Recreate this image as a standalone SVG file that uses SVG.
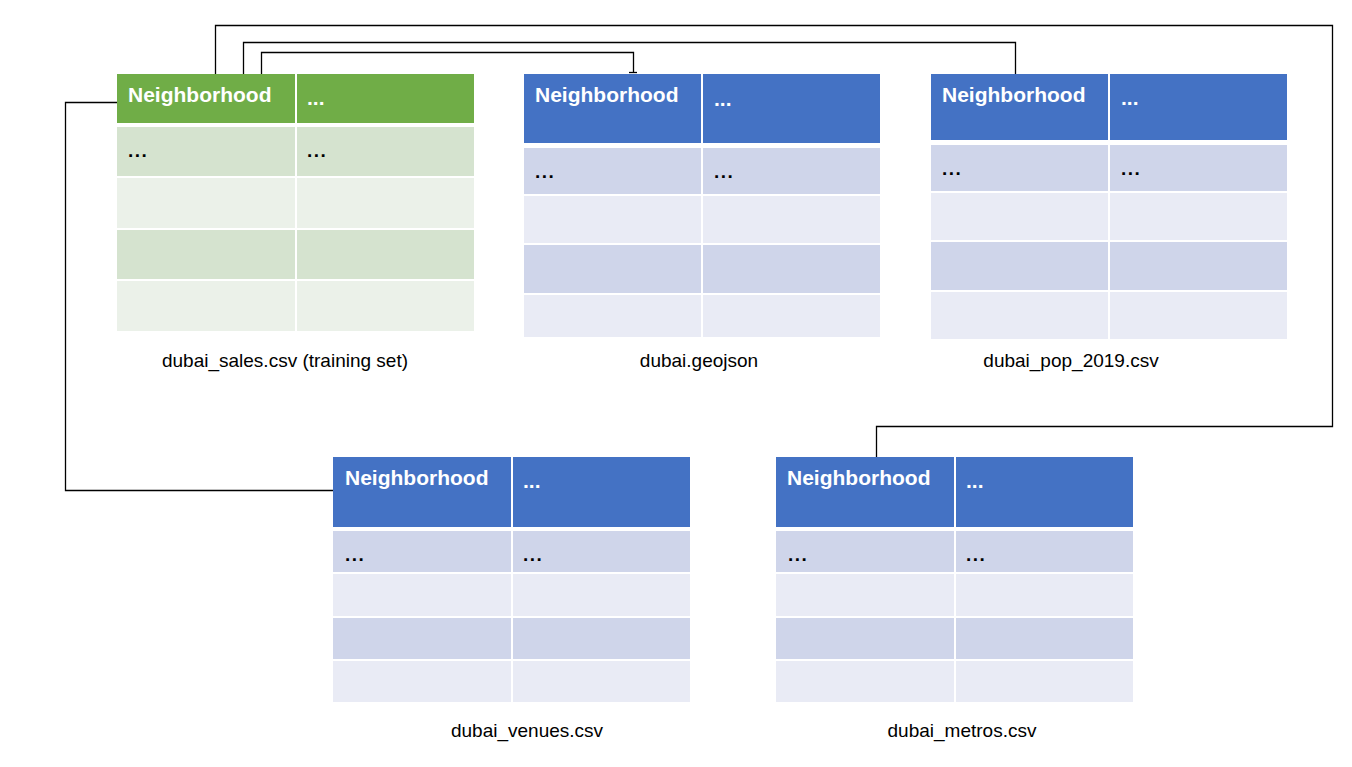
<svg xmlns="http://www.w3.org/2000/svg" width="1352" height="767" viewBox="0 0 1352 767">
<style>
.hg{fill:#70AD47}.g1{fill:#D5E3CF}.g2{fill:#EBF1E9}
.hb{fill:#4472C4}.b1{fill:#CFD5EA}.b2{fill:#E9EBF5}
.ht{font-family:"Liberation Sans",Arial,sans-serif;font-weight:bold;font-size:21px;fill:#FFFFFF}
.ct{font-family:"Liberation Sans",Arial,sans-serif;font-weight:bold;font-size:19px;letter-spacing:1.5px;fill:#000000}
.cap{font-family:"Liberation Sans",Arial,sans-serif;font-size:19px;fill:#000000;text-anchor:middle}
.conn{fill:none;stroke:#000000;stroke-width:1.3}
</style>
<rect width="1352" height="767" fill="#FFFFFF"/>
<g id="connectors">
<path class="conn" d="M215.5 74 V25.5 H1332.5 V426.5 H876.5 V457"/>
<path class="conn" d="M243.5 74 V42.5 H1015.5 V74"/>
<path class="conn" d="M261.5 74 V52.5 H633.5 V72"/>
<path class="conn" d="M629 72.5 H637"/>
<path class="conn" d="M117 102.5 H65.5 V490.5 H333"/>
</g>
<g id="sales">
<rect class="hg" x="117" y="74" width="178" height="49"/>
<rect class="hg" x="297" y="74" width="177" height="49"/>
<rect class="g1" x="117" y="127" width="178" height="49"/>
<rect class="g1" x="297" y="127" width="177" height="49"/>
<rect class="g2" x="117" y="178" width="178" height="50"/>
<rect class="g2" x="297" y="178" width="177" height="50"/>
<rect class="g1" x="117" y="230" width="178" height="49"/>
<rect class="g1" x="297" y="230" width="177" height="49"/>
<rect class="g2" x="117" y="281" width="178" height="50"/>
<rect class="g2" x="297" y="281" width="177" height="50"/>
<text class="ht" x="128" y="102">Neighborhood</text>
<text class="ht" x="307" y="105">...</text>
<text class="ct" x="128" y="157">...</text>
<text class="ct" x="307" y="157">...</text>
<text class="cap" x="285" y="367">dubai_sales.csv (training set)</text>
</g>
<g id="geojson">
<rect class="hb" x="524" y="74" width="177" height="69"/>
<rect class="hb" x="703" y="74" width="177" height="69"/>
<rect class="b1" x="524" y="148" width="177" height="46"/>
<rect class="b1" x="703" y="148" width="177" height="46"/>
<rect class="b2" x="524" y="196" width="177" height="47"/>
<rect class="b2" x="703" y="196" width="177" height="47"/>
<rect class="b1" x="524" y="245" width="177" height="48"/>
<rect class="b1" x="703" y="245" width="177" height="48"/>
<rect class="b2" x="524" y="295" width="177" height="42"/>
<rect class="b2" x="703" y="295" width="177" height="42"/>
<text class="ht" x="535" y="102">Neighborhood</text>
<text class="ht" x="714" y="106">...</text>
<text class="ct" x="535" y="178">...</text>
<text class="ct" x="714" y="178">...</text>
<text class="cap" x="699" y="367">dubai.geojson</text>
</g>
<g id="pop">
<rect class="hb" x="931" y="74" width="177" height="66"/>
<rect class="hb" x="1110" y="74" width="177" height="66"/>
<rect class="b1" x="931" y="145" width="177" height="46"/>
<rect class="b1" x="1110" y="145" width="177" height="46"/>
<rect class="b2" x="931" y="193" width="177" height="47"/>
<rect class="b2" x="1110" y="193" width="177" height="47"/>
<rect class="b1" x="931" y="242" width="177" height="48"/>
<rect class="b1" x="1110" y="242" width="177" height="48"/>
<rect class="b2" x="931" y="292" width="177" height="47"/>
<rect class="b2" x="1110" y="292" width="177" height="47"/>
<text class="ht" x="942" y="102">Neighborhood</text>
<text class="ht" x="1121" y="105">...</text>
<text class="ct" x="942" y="175">...</text>
<text class="ct" x="1121" y="175">...</text>
<text class="cap" x="1071" y="367">dubai_pop_2019.csv</text>
</g>
<g id="venues">
<rect class="hb" x="333" y="457" width="178" height="70"/>
<rect class="hb" x="513" y="457" width="177" height="70"/>
<rect class="b1" x="333" y="531" width="178" height="41"/>
<rect class="b1" x="513" y="531" width="177" height="41"/>
<rect class="b2" x="333" y="574" width="178" height="42"/>
<rect class="b2" x="513" y="574" width="177" height="42"/>
<rect class="b1" x="333" y="618" width="178" height="41"/>
<rect class="b1" x="513" y="618" width="177" height="41"/>
<rect class="b2" x="333" y="661" width="178" height="41"/>
<rect class="b2" x="513" y="661" width="177" height="41"/>
<text class="ht" x="345" y="485">Neighborhood</text>
<text class="ht" x="523" y="488">...</text>
<text class="ct" x="345" y="561">...</text>
<text class="ct" x="523" y="561">...</text>
<text class="cap" x="527" y="737">dubai_venues.csv</text>
</g>
<g id="metros">
<rect class="hb" x="776" y="457" width="178" height="70"/>
<rect class="hb" x="956" y="457" width="177" height="70"/>
<rect class="b1" x="776" y="531" width="178" height="41"/>
<rect class="b1" x="956" y="531" width="177" height="41"/>
<rect class="b2" x="776" y="574" width="178" height="42"/>
<rect class="b2" x="956" y="574" width="177" height="42"/>
<rect class="b1" x="776" y="618" width="178" height="41"/>
<rect class="b1" x="956" y="618" width="177" height="41"/>
<rect class="b2" x="776" y="661" width="178" height="41"/>
<rect class="b2" x="956" y="661" width="177" height="41"/>
<text class="ht" x="787" y="485">Neighborhood</text>
<text class="ht" x="966" y="488">...</text>
<text class="ct" x="788" y="561">...</text>
<text class="ct" x="966" y="561">...</text>
<text class="cap" x="962" y="737">dubai_metros.csv</text>
</g>
</svg>
